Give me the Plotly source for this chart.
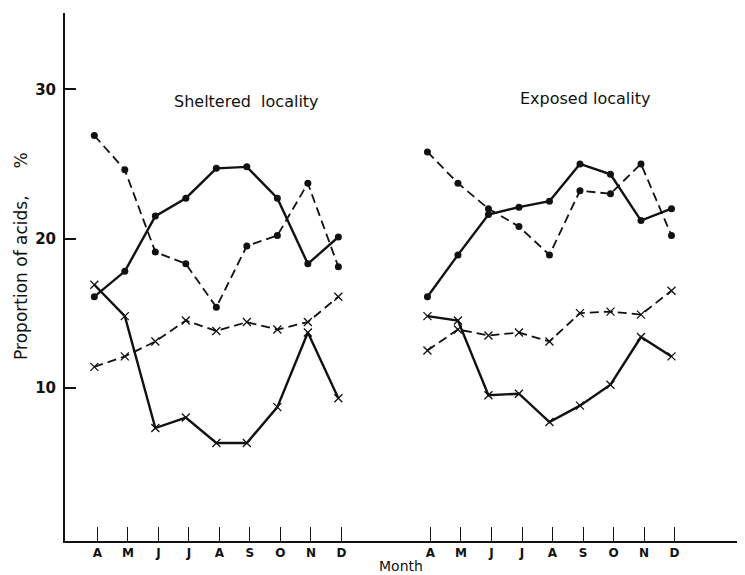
import plotly.graph_objects as go

# ---- data ----
months = ["A", "M", "J", "J", "A", "S", "O", "N", "D"]

sheltered_solid_dot = [16.1, 17.8, 21.5, 22.7, 24.7, 24.8, 22.7, 18.3, 20.1]
sheltered_dashed_dot = [26.9, 24.6, 19.1, 18.3, 15.4, 19.5, 20.2, 23.7, 18.1]
sheltered_solid_x = [16.9, 14.8, 7.3, 8.0, 6.3, 6.3, 8.7, 13.7, 9.3]
sheltered_dashed_x = [11.4, 12.1, 13.1, 14.5, 13.8, 14.4, 13.9, 14.4, 16.1]

exposed_solid_dot = [16.1, 18.9, 21.6, 22.1, 22.5, 25.0, 24.3, 21.2, 22.0]
exposed_dashed_dot = [25.8, 23.7, 22.0, 20.8, 18.9, 23.2, 23.0, 25.0, 20.2]
exposed_solid_x = [14.8, 14.5, 9.5, 9.6, 7.7, 8.8, 10.2, 13.4, 12.1]
exposed_dashed_x = [12.5, 13.9, 13.5, 13.7, 13.1, 15.0, 15.1, 14.9, 16.5]

y_ticks = [10, 20, 30]
group_titles = ["Sheltered\u00a0\u00a0locality", "Exposed locality"]

# ---- layout helpers ----
GROUP_OFFSET = [0.0, 10.92]
x_left = [i + GROUP_OFFSET[0] for i in range(len(months))]
x_right = [i + GROUP_OFFSET[1] for i in range(len(months))]

FONT = "DejaVu Sans"
BLACK = "#111111"

fig = go.Figure()


def add_series(x, y, dashed, marker):
    if marker == "dot":
        m = dict(symbol="circle", size=7, color=BLACK)
    else:
        m = dict(symbol="x-thin-open", size=8, color=BLACK,
                 line=dict(width=1.3, color=BLACK))
    fig.add_trace(go.Scatter(
        x=x, y=y, mode="lines+markers",
        line=dict(color=BLACK, width=1.8 if dashed else 2.4,
                  dash="9px,5px" if dashed else "solid"),
        marker=m, showlegend=False, hoverinfo="y"))


add_series(x_left, sheltered_solid_dot, False, "dot")
add_series(x_left, sheltered_dashed_dot, True, "dot")
add_series(x_left, sheltered_solid_x, False, "x")
add_series(x_left, sheltered_dashed_x, True, "x")
add_series(x_right, exposed_solid_dot, False, "dot")
add_series(x_right, exposed_dashed_dot, True, "dot")
add_series(x_right, exposed_solid_x, False, "x")
add_series(x_right, exposed_dashed_x, True, "x")

tick_shift = 0.1
tickvals = [v + tick_shift for v in x_left + x_right]
ticktext = months + months

fig.update_layout(
    width=745, height=575,
    margin=dict(l=57, r=8, t=5, b=42),
    paper_bgcolor="white", plot_bgcolor="white",
    font=dict(family=FONT, color=BLACK),
    xaxis=dict(
        range=[-0.961, 21.33], showgrid=False, zeroline=False,
        showline=True, linecolor=BLACK, linewidth=2,
        tickmode="array", tickvals=tickvals, ticktext=ticktext,
        ticks="inside", ticklen=14, tickwidth=1.2, tickcolor=BLACK,
        tickfont=dict(family=FONT, size=12, color=BLACK, weight="bold"),
    ),
    yaxis=dict(
        range=[-0.27, 35.11], showgrid=False, zeroline=False,
        showline=True, linecolor=BLACK, linewidth=2,
        tickmode="array", tickvals=y_ticks,
        ticktext=[str(v) for v in y_ticks],
        ticks="inside", ticklen=11, tickwidth=1.5, tickcolor=BLACK,
        ticklabelstandoff=4,
        tickfont=dict(family=FONT, size=15, color=BLACK, weight="bold"),
    ),
    annotations=[
        dict(text=group_titles[0], x=5.0, y=29.15, xref="x", yref="y",
             xanchor="center", yanchor="middle",
             showarrow=False, font=dict(family=FONT, size=16, color=BLACK)),
        dict(text=group_titles[1], x=16.09, y=29.35, xref="x", yref="y",
             xanchor="center", yanchor="middle",
             showarrow=False, font=dict(family=FONT, size=16, color=BLACK)),
        dict(text="Proportion of acids,\u00a0\u00a0\u00a0\u00a0\u00a0%",
             x=-0.0647, y=0.54, xref="paper", yref="paper", textangle=-90,
             xanchor="center", yanchor="middle",
             showarrow=False, font=dict(family=FONT, size=17, color=BLACK)),
        dict(text="Month", x=0.494, y=-0.047, xref="paper", yref="paper",
             xanchor="center", yanchor="middle",
             showarrow=False, font=dict(family=FONT, size=14, color=BLACK)),
    ],
)

fig.write_html("out.html")
